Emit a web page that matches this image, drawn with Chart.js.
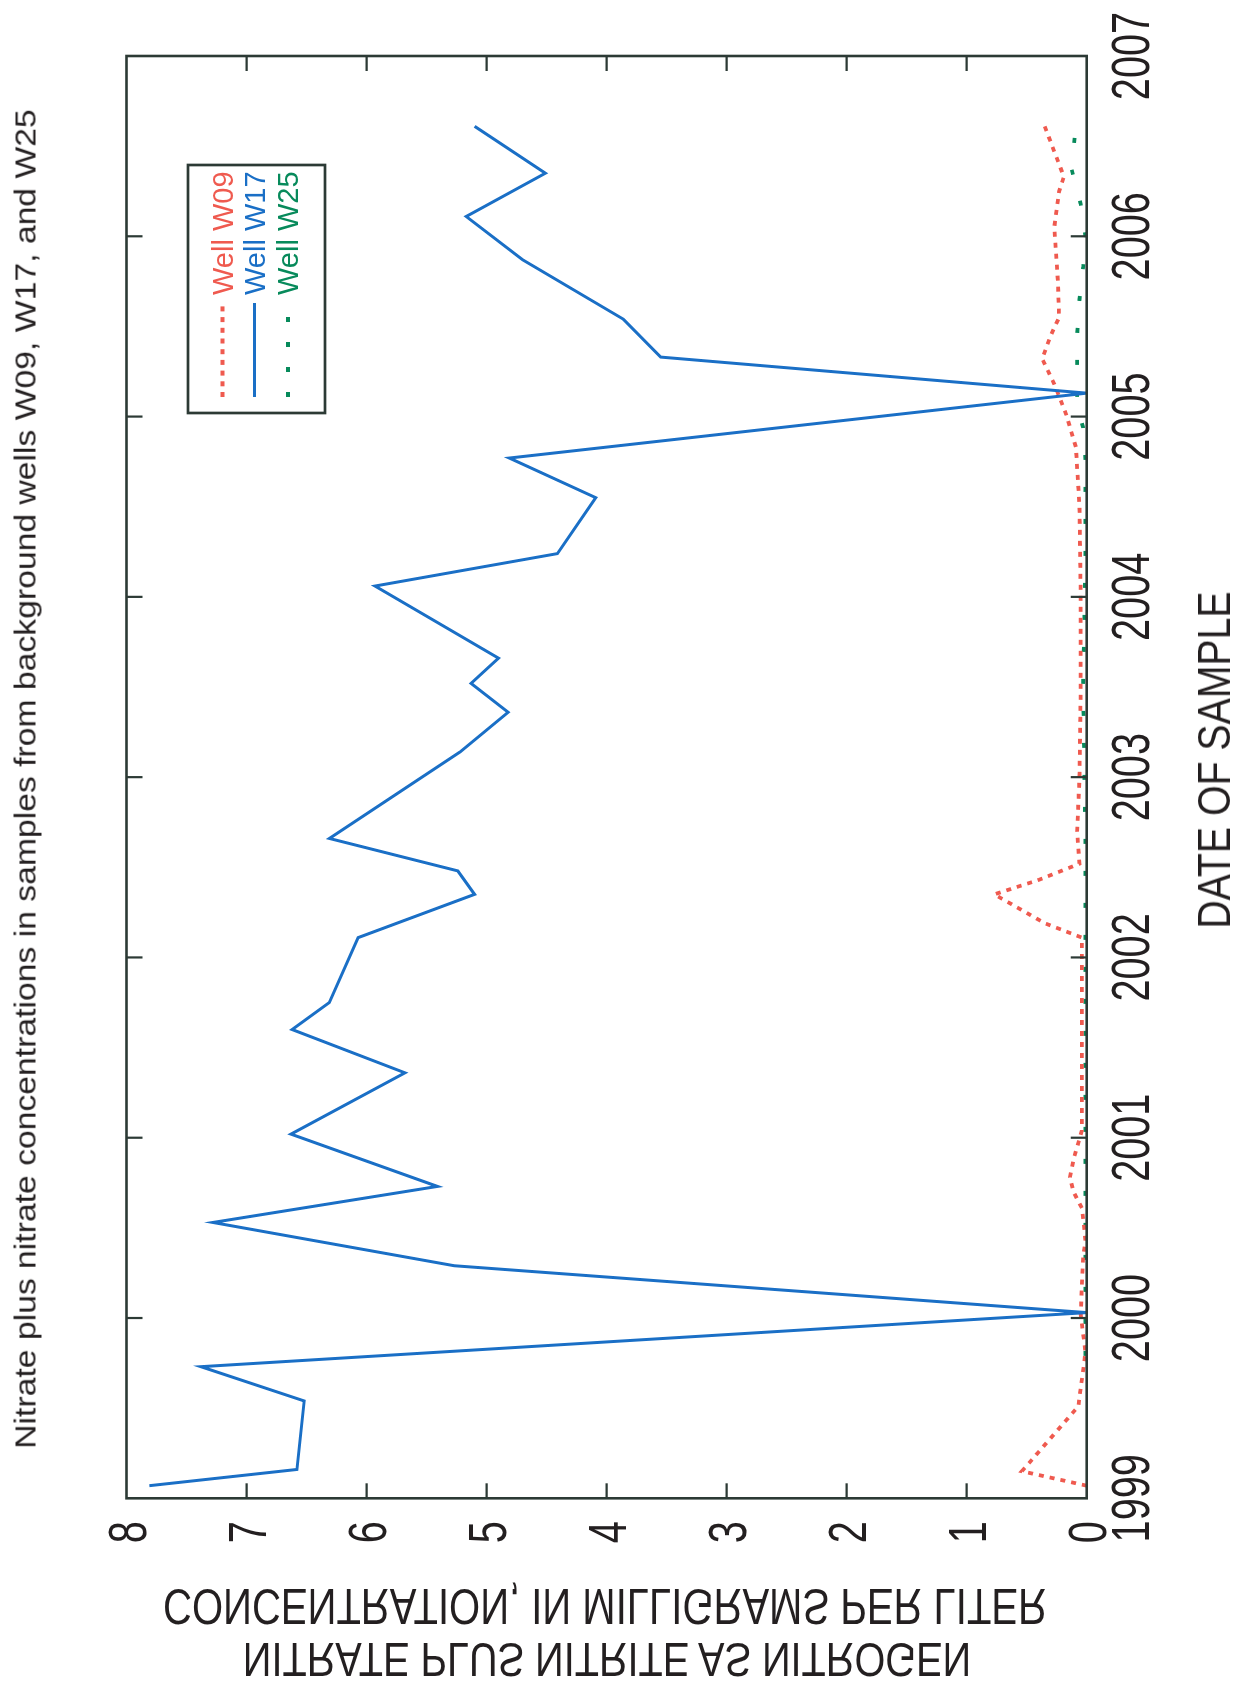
<!DOCTYPE html>
<html><head><meta charset="utf-8">
<script src="https://cdn.jsdelivr.net/npm/chart.js@4.4.1/dist/chart.umd.min.js"></script>
<style>
html,body{margin:0;padding:0;background:#fff;overflow:hidden}
body{width:1246px;height:1693px;position:relative}
#frame{position:absolute;left:0;top:0;width:1693px;height:1246px;transform-origin:0 0;transform:translate(0,1693px) rotate(-90deg)}
#c{position:absolute;left:0;top:0}
.t{position:absolute;white-space:nowrap;font-family:"Liberation Sans",Arial,sans-serif;line-height:1;transform-origin:50% 50%;color:#231f20}
</style></head><body>
<div id="frame">
<canvas id="c" width="1693" height="1246"></canvas>
<div id="title" class="t" style="font-size:29px">Nitrate plus nitrate concentrations in samples from background wells W09, W17, and W25</div>
<div id="xtitle" class="t" style="font-size:46px">DATE OF SAMPLE</div>
</div>
<div id="yt1" class="t" style="font-size:48px">NITRATE PLUS NITRITE AS NITROGEN</div>
<div id="yt2" class="t" style="font-size:50px">CONCENTRATION, IN MILLIGRAMS PER LITER</div>
<script>
// ---------------- data ----------------
const seriesNames = ['Well W09', 'Well W17', 'Well W25'];

const dates_W17 = [1999.07, 1999.16, 1999.54, 1999.73, 2000.03, 2000.29, 2000.53, 2000.73, 2001.02, 2001.36, 2001.60, 2001.75, 2002.11, 2002.35, 2002.48, 2002.66, 2003.14, 2003.36, 2003.52, 2003.66, 2004.06, 2004.24, 2004.55, 2004.77, 2005.13, 2005.33, 2005.54, 2005.87, 2006.11, 2006.35, 2006.61];
const values_W17 = [7.81, 6.58, 6.52, 7.38, 0.00, 5.27, 7.28, 5.41, 6.63, 5.68, 6.62, 6.31, 6.07, 5.10, 5.24, 6.31, 5.22, 4.82, 5.13, 4.90, 5.93, 4.41, 4.09, 4.81, 0.00, 3.55, 3.86, 4.70, 5.17, 4.51, 5.10];

const dates_W09 = [1999.07, 1999.15, 1999.51, 1999.81, 2000.02, 2000.34, 2000.43, 2000.61, 2000.70, 2000.78, 2000.88, 2001.04, 2001.50, 2002.11, 2002.19, 2002.35, 2002.43, 2002.52, 2002.70, 2003.00, 2003.50, 2004.00, 2004.50, 2004.83, 2005.01, 2005.18, 2005.32, 2005.45, 2005.55, 2005.75, 2006.05, 2006.25, 2006.33, 2006.61];
const values_W09 = [0.00, 0.54, 0.07, 0.01, 0.05, 0.03, 0.01, 0.04, 0.11, 0.14, 0.11, 0.04, 0.04, 0.04, 0.35, 0.77, 0.40, 0.06, 0.08, 0.06, 0.05, 0.05, 0.06, 0.09, 0.17, 0.27, 0.37, 0.30, 0.23, 0.24, 0.27, 0.23, 0.19, 0.35];

const dates_W25 = [1999.79, 2000.50, 2001.05, 2002.00, 2002.63, 2003.50, 2004.22, 2004.76, 2004.94, 2005.05, 2005.45, 2005.65, 2005.83, 2006.00, 2006.18, 2006.37, 2006.55];
const values_W25 = [0.01, 0.01, 0.01, 0.01, 0.01, 0.03, 0.01, 0.01, 0.03, 0.08, 0.08, 0.06, 0.03, 0.01, 0.05, 0.125, 0.10];

const dateTicks = [1999, 2000, 2001, 2002, 2003, 2004, 2005, 2006, 2007];
const concTicks = [0, 1, 2, 3, 4, 5, 6, 7, 8];

// ---------------- styles ----------------
const AXIS = '#2c3a35';
const TXT = '#231f20';
const COLORS = {W09: '#ef5a4f', W17: '#1a6fc6', W25: '#078a5b'};
const FONT = '"Liberation Sans", Arial, sans-serif';

function pts(d, v) { return d.map((x, i) => ({x: x, y: v[i]})); }

function cText(ctx, s, x, y, k) {
  ctx.save(); ctx.translate(x, y); ctx.scale(k, 1); ctx.fillText(s, 0, 0); ctx.restore();
}

const decor = {
  id: 'decor',
  afterDraw(chart) {
    const ctx = chart.ctx, a = chart.chartArea;
    const xs = chart.scales.x, ys = chart.scales.y;
    ctx.save();
    ctx.strokeStyle = AXIS;
    ctx.lineWidth = 2.6;
    ctx.strokeRect(a.left, a.top, a.right - a.left, a.bottom - a.top);
    ctx.lineWidth = 2.2;
    ctx.beginPath();
    dateTicks.forEach(v => {
      if (v === xs.min || v === xs.max) return;
      const p = xs.getPixelForValue(v);
      ctx.moveTo(p, a.bottom); ctx.lineTo(p, a.bottom - 16);
      ctx.moveTo(p, a.top); ctx.lineTo(p, a.top + 16);
    });
    concTicks.forEach(v => {
      if (v === ys.min || v === ys.max) return;
      const p = ys.getPixelForValue(v);
      ctx.moveTo(a.left, p); ctx.lineTo(a.left + 15, p);
      ctx.moveTo(a.right, p); ctx.lineTo(a.right - 15, p);
    });
    ctx.stroke();
    // tick labels
    ctx.fillStyle = TXT;
    ctx.font = '54px ' + FONT;
    ctx.textAlign = 'center';
    ctx.textBaseline = 'alphabetic';
    dateTicks.forEach(v => {
      cText(ctx, String(v), xs.getPixelForValue(v), a.bottom + 62, 0.735);
    });
    concTicks.forEach(v => {
      cText(ctx, String(v), a.left - 34, ys.getPixelForValue(v) + 19.5, 0.735);
    });
    // legend
    const L = {left: 1280, top: 188, w: 248, h: 137};
    ctx.lineWidth = 2.7;
    ctx.strokeStyle = AXIS;
    ctx.strokeRect(L.left, L.top, L.w, L.h);
    const rows = [222.5, 254.5, 288];
    ctx.font = '29px ' + FONT;
    ctx.textAlign = 'left';
    chart.data.datasets.forEach(ds => {
      const i = seriesNames.indexOf(ds.label);
      const r = rows[i];
      ctx.save();
      ctx.strokeStyle = ds.borderColor;
      ctx.lineWidth = ds.borderWidth;
      ctx.setLineDash(ds.legendDash || []);
      ctx.beginPath(); ctx.moveTo(1296, r); ctx.lineTo(1390, r); ctx.stroke();
      ctx.restore();
      ctx.fillStyle = ds.borderColor;
      ctx.fillText(ds.label, 1398, r + 10.4);
    });
    ctx.restore();
  }
};

new Chart(document.getElementById('c'), {
  type: 'line',
  data: {
    datasets: [
      {label: seriesNames[1], data: pts(dates_W17, values_W17), borderColor: COLORS.W17, borderWidth: 3, borderDash: [], legendDash: [], pointRadius: 0, tension: 0, fill: false, clip: 6},
      {label: seriesNames[0], data: pts(dates_W09, values_W09), borderColor: COLORS.W09, borderWidth: 3.8, borderDash: [5, 6], legendDash: [5, 5.7], pointRadius: 0, tension: 0, fill: false, clip: 6},
      {label: seriesNames[2], data: pts(dates_W25, values_W25), borderColor: COLORS.W25, borderWidth: 3.8, borderDash: [5, 27], legendDash: [5, 20], pointRadius: 0, tension: 0, fill: false, clip: 6}
    ]
  },
  options: {
    responsive: false,
    animation: false,
    devicePixelRatio: 1,
    layout: {padding: {left: 194.7, right: 56, top: 126.5, bottom: 159.3}},
    plugins: {legend: {display: false}, tooltip: {enabled: false}, title: {display: false}},
    scales: {
      x: {type: 'linear', min: 1999, max: 2007, display: false},
      y: {type: 'linear', min: 0, max: 8, display: false}
    }
  },
  plugins: [decor]
});

// ---------------- text placement ----------------
function place(id, cx, cy, targetW, flip) {
  const el = document.getElementById(id);
  const w = el.offsetWidth;
  const k = targetW / w;
  el.style.left = cx + 'px';
  el.style.top = cy + 'px';
  el.style.transform = 'translate(-50%,-50%) scale(' + k + ',' + (flip ? -1 : 1) + ')';
}
place('title', 244 + 1339 / 2, 25.5, 1339, false);
place('xtitle', 932.5, 1213.5, 337, false);
place('yt1', 606.5, 1659, 728.5, true);
place('yt2', 605, 1606, 884, true);
</script>
</body></html>
